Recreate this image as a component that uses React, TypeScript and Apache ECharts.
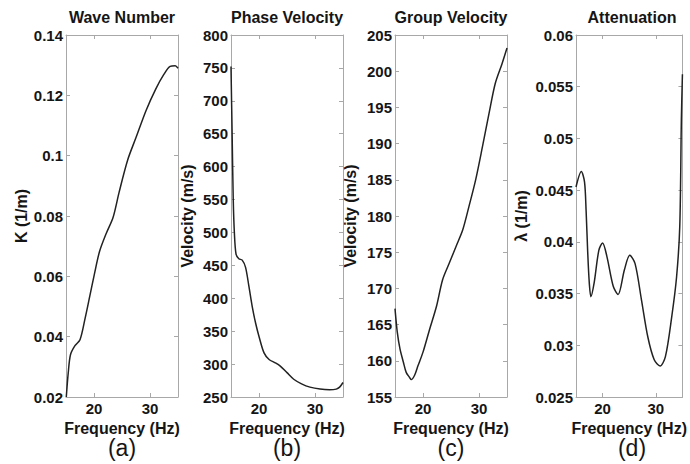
import React, { useEffect, useRef } from "react";
import * as echarts from "echarts";

// Panel (a) Wave Number
const freqA = [15.05, 15.4, 15.8, 16.6, 17.5, 18.4, 19.2, 20.1, 21, 22.2, 23.4, 24.5, 26, 27.5, 29.3, 31, 32.5, 33.6, 34.5, 35];
const waveK = [0.02, 0.028, 0.034, 0.037, 0.039, 0.046, 0.053, 0.061, 0.0683, 0.0743, 0.0795, 0.088, 0.0985, 0.106, 0.115, 0.122, 0.127, 0.1296, 0.1298, 0.129];

// Panel (b) Phase Velocity
const freqB = [15, 15.2, 15.4, 15.6, 15.9, 16.4, 17, 17.6, 18.2, 18.8, 19.4, 20, 20.9, 21.8, 22.9, 23.8, 25, 26.2, 27.6, 29.1, 30.9, 32.6, 33.8, 34.4, 35];
const phaseV = [752, 650, 550, 500, 467, 460, 458, 447, 418, 387, 362, 342, 317, 307, 302, 297, 287, 277, 270, 265, 262, 261, 262, 265, 272];

// Panel (c) Group Velocity
const freqC = [15, 15.4, 15.9, 16.5, 17, 17.6, 17.9, 18.5, 19.1, 20, 21.2, 22.4, 23.5, 24.7, 25.9, 27.1, 28.2, 29.4, 30.6, 31.8, 32.9, 34.1, 35];
const groupV = [167.2, 164, 161.6, 159.8, 158.4, 157.7, 157.4, 158, 159.3, 161.2, 164.4, 167.5, 171.2, 173.5, 175.8, 178.1, 181.3, 185, 189.5, 194.2, 198.3, 201, 203.2];

// Panel (d) Attenuation
const freqD = [15, 16, 16.6, 16.9, 17.2, 17.5, 17.8, 18.4, 19.3, 20, 20.8, 22, 22.9, 24.1, 25.1, 26.1, 27.3, 28.5, 29.7, 30.8, 31.8, 33, 33.9, 34.5, 34.8, 35];
const atten = [0.0453, 0.0468, 0.0458, 0.043, 0.039, 0.036, 0.0347, 0.036, 0.0392, 0.0399, 0.0386, 0.0357, 0.0349, 0.0373, 0.0387, 0.0379, 0.0344, 0.0308, 0.0286, 0.028, 0.0289, 0.0328, 0.0366, 0.0415, 0.0518, 0.0562];

const titles = ["Wave Number", "Phase Velocity", "Group Velocity", "Attenuation"];
const panelTags = ["(a)", "(b)", "(c)", "(d)"];
const yNames = ["K (1/m)", "Velocity (m/s)", "Velocity (m/s)", "λ (1/m)"];
const xName = "Frequency (Hz)";
const xTicks = [20, 30];
const yRanges = [
  { min: 0.02, max: 0.14, interval: 0.02 },
  { min: 250, max: 800, interval: 50 },
  { min: 155, max: 205, interval: 5 },
  { min: 0.025, max: 0.06, interval: 0.005 },
];
const seriesData = [
  [freqA, waveK],
  [freqB, phaseV],
  [freqC, groupV],
  [freqD, atten],
];

const FONT = "'Liberation Sans', Arial, sans-serif";
const AXIS_COLOR = "#a8a8a8";
const TEXT_COLOR = "#151515";

const gridLefts = [66, 231, 395, 576];
const gridWidth = 112;
const gridTop = 35;
const gridHeight = 362;
const yNameGaps = [37, 36, 37, 47];

export default function App() {
  const ref = useRef<HTMLDivElement>(null);
  useEffect(() => {
    document.body.style.margin = "0";
    if (!ref.current) return;
    const chart = echarts.init(ref.current, undefined, { renderer: "svg" });

    const grids: any[] = [];
    const xAxes: any[] = [];
    const yAxes: any[] = [];
    const series: any[] = [];
    const graphics: any[] = [];

    for (let i = 0; i < 4; i++) {
      grids.push({ left: gridLefts[i], top: gridTop, width: gridWidth, height: gridHeight });
      const common = {
        gridIndex: i,
        type: "value",
        min: 15,
        max: 35,
        splitLine: { show: false },
        axisLine: { show: true, onZero: false, lineStyle: { color: AXIS_COLOR, width: 1 } },
        axisTick: { show: true, inside: true, length: 4, customValues: xTicks, lineStyle: { color: AXIS_COLOR } },
      };
      xAxes.push({
        ...common,
        position: "bottom",
        axisLabel: {
          customValues: xTicks,
          fontFamily: FONT,
          fontWeight: "bold",
          fontSize: 15,
          color: TEXT_COLOR,
          margin: 4,
        },
        name: xName,
        nameLocation: "middle",
        nameGap: 16,
        nameTextStyle: { fontFamily: FONT, fontWeight: "bold", fontSize: 16, color: TEXT_COLOR },
      });
      xAxes.push({ ...common, position: "top", axisLabel: { show: false } });

      const yr = yRanges[i];
      const ycommon = {
        gridIndex: i,
        type: "value",
        min: yr.min,
        max: yr.max,
        interval: yr.interval,
        splitLine: { show: false },
        axisLine: { show: true, onZero: false, lineStyle: { color: AXIS_COLOR, width: 1 } },
        axisTick: { show: true, inside: true, length: 4, lineStyle: { color: AXIS_COLOR } },
      };
      yAxes.push({
        ...ycommon,
        position: "left",
        axisLabel: {
          fontFamily: FONT,
          fontWeight: "bold",
          fontSize: 15,
          color: TEXT_COLOR,
          margin: 3,
        },
        name: yNames[i],
        nameLocation: "middle",
        nameRotate: 90,
        nameGap: yNameGaps[i],
        nameTextStyle: { fontFamily: FONT, fontWeight: "bold", fontSize: 16, color: TEXT_COLOR },
      });
      yAxes.push({ ...ycommon, position: "right", axisLabel: { show: false } });

      const [fx, fy] = seriesData[i];
      series.push({
        type: "line",
        xAxisIndex: i * 2,
        yAxisIndex: i * 2,
        data: fx.map((f, k) => [f, fy[k]]),
        showSymbol: false,
        smooth: 0.3,
        lineStyle: { color: "#222", width: 1.5 },
        silent: true,
      });

      const cx = gridLefts[i] + gridWidth / 2;
      graphics.push({
        type: "text",
        x: cx,
        y: 17.5,
        style: {
          text: titles[i],
          font: `bold 16px ${FONT}`,
          fill: TEXT_COLOR,
          textAlign: "center",
          textVerticalAlign: "middle",
        },
      });
      graphics.push({
        type: "text",
        x: cx,
        y: 448,
        style: {
          text: panelTags[i],
          font: `23px ${FONT}`,
          fill: TEXT_COLOR,
          textAlign: "center",
          textVerticalAlign: "middle",
        },
      });
    }

    chart.setOption({
      animation: false,
      backgroundColor: "#ffffff",
      grid: grids,
      xAxis: xAxes,
      yAxis: yAxes,
      series,
      graphic: graphics,
    });
    return () => chart.dispose();
  }, []);
  return <div ref={ref} style={{ width: 690, height: 464 }} />;
}
